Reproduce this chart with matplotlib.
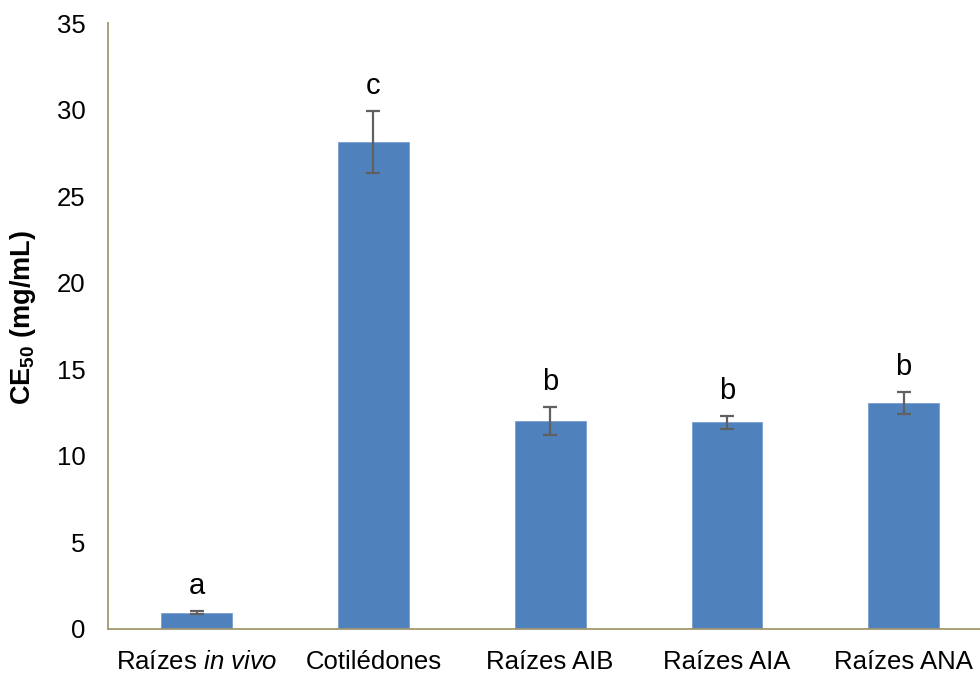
import numpy as np
import matplotlib
matplotlib.use("Agg")
import matplotlib.pyplot as plt

# CE50 values per extract (mg/mL), standard deviation and significance groups
categories = ["Raízes $\\it{in\\ vivo}$", "Cotilédones", "Raízes AIB", "Raízes AIA", "Raízes ANA"]
ce50 = [0.95, 28.15, 12.05, 11.95, 13.05]
sd = [0.10, 1.79, 0.81, 0.39, 0.64]
groups = ["a", "c", "b", "b", "b"]

plt.rcParams['font.family'] = ['Liberation Sans', 'DejaVu Sans']
plt.rcParams['mathtext.fontset'] = 'custom'
plt.rcParams['mathtext.rm'] = 'Liberation Sans'
plt.rcParams['mathtext.it'] = 'Liberation Sans:italic'
plt.rcParams['mathtext.bf'] = 'Liberation Sans:bold'

fig = plt.figure(figsize=(9.8, 6.73), dpi=100)
ax = fig.add_axes([0.1105, 0.0654, 0.9018, 0.8997])

x = np.arange(len(categories))
ax.bar(x, ce50, width=0.40, color='#4F81BD', edgecolor='#7A9FD0', linewidth=0.6, zorder=2)
ax.errorbar(x, ce50, yerr=sd, fmt='none', ecolor='#606060', elinewidth=1.6,
            capsize=5, capthick=1.6, zorder=3)

for xi, v, e, g in zip(x, ce50, sd, groups):
    ax.annotate(g, (xi, v + e), xytext=(0, 12), textcoords='offset points',
                ha='center', va='baseline', fontsize=21)

ax.set_xlim(-0.5, 4.5)
ax.set_ylim(0, 35)
ax.set_yticks(np.arange(0, 36, 5))
ax.set_xticks(x)
ax.set_xticklabels(categories)
ax.tick_params(axis='y', length=0, pad=16.5, labelsize=18.5)
ax.tick_params(axis='x', length=0, pad=15, labelsize=18.5)

for side in ('top', 'right'):
    ax.spines[side].set_visible(False)
for side in ('left', 'bottom'):
    ax.spines[side].set_color('#A09870')
    ax.spines[side].set_linewidth(1.3)

ax.set_ylabel(r'CE$_{\mathbf{50}}$ (mg/mL)', fontsize=19.5, fontweight='bold')
ax.yaxis.set_label_coords(-0.079, 0.515)

fig.savefig('out.png', dpi=100)
